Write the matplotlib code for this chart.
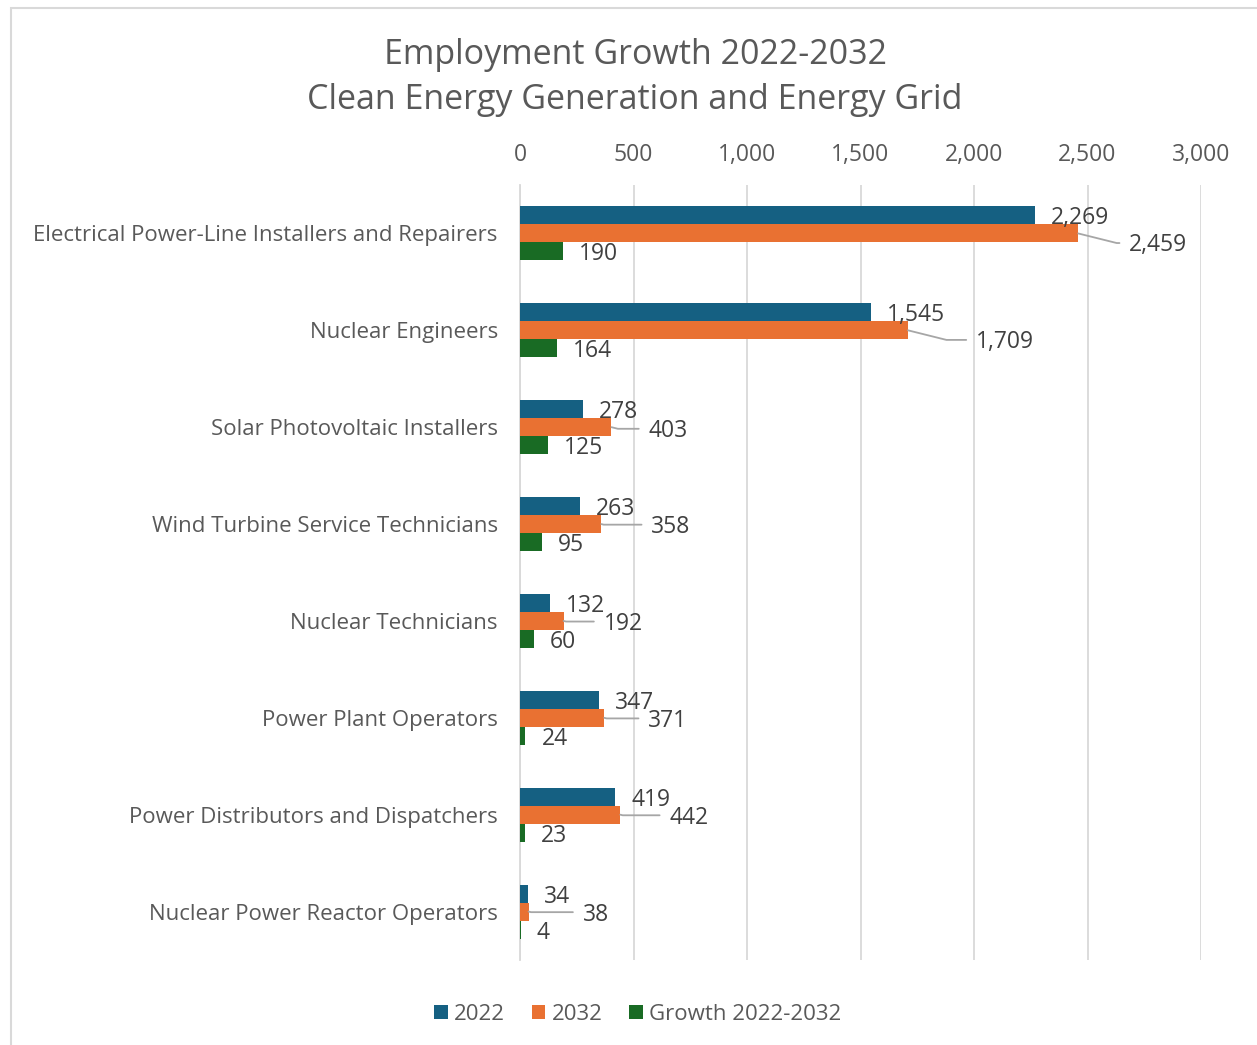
import matplotlib.pyplot as plt
import matplotlib.patches as mpatches
import numpy as np

plt.rcParams['font.family'] = ['Open Sans', 'DejaVu Sans']

occupations = [
    "Electrical Power-Line Installers and Repairers",
    "Nuclear Engineers",
    "Solar Photovoltaic Installers",
    "Wind Turbine Service Technicians",
    "Nuclear Technicians",
    "Power Plant Operators",
    "Power Distributors and Dispatchers",
    "Nuclear Power Reactor Operators",
]
jobs_2022 = [2269, 1545, 278, 263, 132, 347, 419, 34]
jobs_2032 = [2459, 1709, 403, 358, 192, 371, 442, 38]
growth = [190, 164, 125, 95, 60, 24, 23, 4]

# where the 2032 labels sit, in pixels right of / below the bar end
shift_2032 = [(51, 9), (68, 9), (37, 1), (50, 0), (40, 0), (44, 0), (49, 0), (54, 0)]

c_2022 = "#156082"
c_2032 = "#E97132"
c_growth = "#196B24"
txt = "#595959"
lbl = "#404040"
fs = 16.5
nudge = 3  # text sits a touch low in its line box

fig = plt.figure(figsize=(12.57, 10.45), dpi=100)
ax = fig.add_axes([520 / 1257, 1 - 960 / 1045, 681 / 1257, 775 / 1045])

y = np.arange(len(occupations))
h = 0.186
ax.barh(y - h, jobs_2022, height=h, color=c_2022, label="2022", zorder=3)
ax.barh(y, jobs_2032, height=h, color=c_2032, label="2032", zorder=3)
ax.barh(y + h, growth, height=h, color=c_growth, label="Growth 2022-2032", zorder=3)

ax.set_xlim(0, 3000)
ax.set_ylim(len(occupations) - 0.5, -0.5)
ax.set_xticks(np.arange(0, 3001, 500))
ax.xaxis.set_major_formatter(plt.FuncFormatter(lambda v, p: f"{int(v):,}"))
ax.xaxis.tick_top()
ax.set_yticks(y)
ax.set_yticklabels(occupations)
ax.tick_params(axis="x", length=0, pad=13, labelsize=fs, colors=txt)
ax.tick_params(axis="y", length=0, pad=16, labelsize=16, colors=txt)
ax.grid(axis="x", color="#D9D9D9", linewidth=1.3, zorder=0)
for s in ["top", "right", "bottom"]:
    ax.spines[s].set_visible(False)
ax.spines["left"].set_color("#D9D9D9")
ax.spines["left"].set_linewidth(1.3)

for i in range(len(occupations)):
    ax.annotate(f"{jobs_2022[i]:,}", (jobs_2022[i], i - h), xytext=(16, -nudge),
                textcoords="offset pixels", va="center", ha="left",
                fontsize=fs, color=lbl, zorder=4)
    ax.annotate(f"{growth[i]:,}", (growth[i], i + h), xytext=(16, -nudge),
                textcoords="offset pixels", va="center", ha="left",
                fontsize=fs, color=lbl, zorder=4)
    dx, dy = shift_2032[i]
    ax.annotate(f"{jobs_2032[i]:,}", (jobs_2032[i], i), xytext=(dx, -dy - nudge),
                textcoords="offset pixels", va="center", ha="left",
                fontsize=fs, color=lbl, zorder=4,
                arrowprops=dict(arrowstyle="-", color="#A6A6A6", lw=1.3,
                                shrinkA=5, shrinkB=0,
                                relpos=(0, 0.6),
                                connectionstyle="angle,angleA=0,angleB=-14,rad=0"))

fig.text(635 / 1257, 1 - 55 / 1045, "Employment Growth 2022-2032", ha="center",
         va="center", fontsize=24.5, color=txt)
fig.text(635 / 1257, 1 - 100 / 1045, "Clean Energy Generation and Energy Grid",
         ha="center", va="center", fontsize=24.5, color=txt)

fig.legend(loc="center", bbox_to_anchor=(638 / 1257, 1 - 1014 / 1045), ncol=3,
           frameon=False, fontsize=16, labelcolor=txt, handlelength=0.6,
           handleheight=0.6, handletextpad=0.3, columnspacing=1.2)

# outer chart border
fig.patches.append(mpatches.Rectangle((11 / 1257, -0.1), 1.2, 1 - 8 / 1045 + 0.1,
                                      transform=fig.transFigure, fill=False,
                                      edgecolor="#D9D9D9", linewidth=1.5))

fig.savefig("out.png", dpi=100)
